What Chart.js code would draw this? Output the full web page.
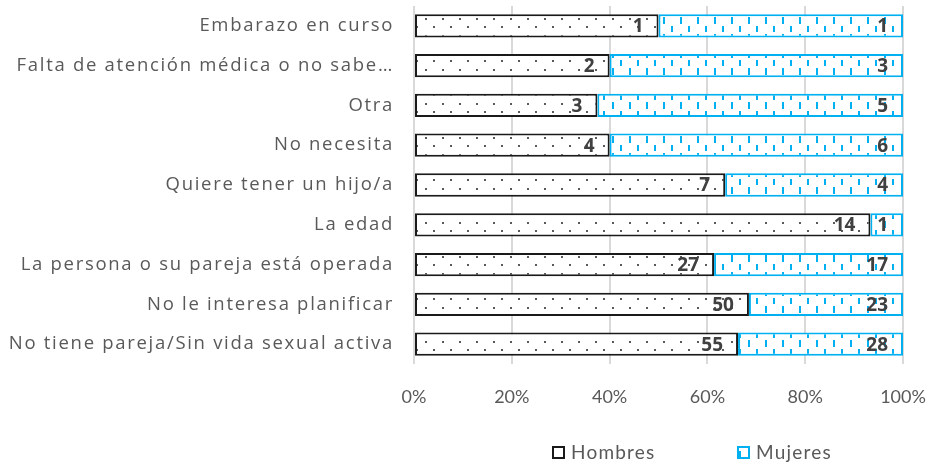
<!DOCTYPE html>
<html><head><meta charset="utf-8">
<script src="https://cdn.jsdelivr.net/npm/chart.js@4"></script>
<style>html,body{margin:0;padding:0;background:#fff}#wrap{width:932px;height:464px}</style>
</head><body><div id="wrap"><canvas id="c" width="932" height="464"></canvas></div>
<script>
const categories = [
  'Embarazo en curso',
  'Falta de atención médica o no sabe…',
  'Otra',
  'No necesita',
  'Quiere tener un hijo/a',
  'La edad',
  'La persona o su pareja está operada',
  'No le interesa planificar',
  'No tiene pareja/Sin vida sexual activa'
];
const hombres = [1, 2, 3, 4, 7, 14, 27, 50, 55];
const mujeres = [1, 3, 5, 6, 4, 1, 17, 23, 28];
const seriesNames = ['Hombres', 'Mujeres'];
const xTickValues = [0, 20, 40, 60, 80, 100];

const totals = hombres.map((h, i) => h + mujeres[i]);
const hombresPct = hombres.map((h, i) => h / totals[i] * 100);
const mujeresPct = mujeres.map((m, i) => m / totals[i] * 100);

const CYAN = '#00B0F0';
const DARK = '#1a1a1a';
const SPACING = '1.7px';

function dotPattern() {
  const c = document.createElement('canvas');
  c.width = 17; c.height = 17;
  const g = c.getContext('2d');
  g.fillStyle = '#fff'; g.fillRect(0, 0, 17, 17);
  g.fillStyle = '#5a5a5a';
  g.fillRect(0, 1, 2, 2);
  g.fillRect(8, 9, 2, 2);
  return g.createPattern(c, 'repeat');
}
function dashPattern() {
  const c = document.createElement('canvas');
  c.width = 17; c.height = 17;
  const g = c.getContext('2d');
  g.fillStyle = '#fff'; g.fillRect(0, 0, 17, 17);
  g.fillStyle = CYAN;
  g.fillRect(0, 0, 2, 7);
  g.fillRect(8, 9, 2, 6);
  return g.createPattern(c, 'repeat');
}
const patH = dotPattern();
const patM = dashPattern();

const labelPlugin = {
  id: 'valueLabels',
  afterDatasetsDraw(chart) {
    const ctx = chart.ctx;
    ctx.save();
    ctx.letterSpacing = '0px';
    ctx.font = 'bold 19px "Open Sans", sans-serif';
    ctx.fillStyle = '#404040';
    ctx.textAlign = 'right';
    ctx.textBaseline = 'middle';
    chart.data.datasets.forEach((ds, di) => {
      const meta = chart.getDatasetMeta(di);
      meta.data.forEach((bar, i) => {
        ctx.fillText(String(ds.counts[i]), bar.x - 15, bar.y + 1);
      });
    });
    ctx.restore();
    // category labels (drawn next, z=1) use spaced lettering
    ctx.letterSpacing = SPACING;
  }
};

const legendPlugin = {
  id: 'customLegend',
  afterDraw(chart) {
    const ctx = chart.ctx;
    const items = [
      { x: 552, fill: patH, stroke: DARK, text: chart.data.datasets[0].label },
      { x: 737, fill: patM, stroke: CYAN, text: chart.data.datasets[1].label }
    ];
    const y = 452;
    ctx.save();
    items.forEach(it => {
      ctx.letterSpacing = '0px';
      ctx.fillStyle = '#fff';
      ctx.fillRect(it.x, y - 6, 13, 13);
      ctx.fillStyle = it.fill;
      ctx.fillRect(it.x, y - 6, 13, 13);
      ctx.strokeStyle = it.stroke;
      ctx.lineWidth = 2;
      ctx.strokeRect(it.x + 1, y - 5, 11, 11);
      ctx.letterSpacing = '1.2px';
      ctx.fillStyle = '#595959';
      ctx.font = '19px Lato, sans-serif';
      ctx.textAlign = 'left';
      ctx.textBaseline = 'middle';
      ctx.fillText(it.text, it.x + 19, y + 1);
    });
    ctx.restore();
    ctx.letterSpacing = '0px';
  }
};

new Chart(document.getElementById('c'), {
  type: 'bar',
  data: {
    labels: categories,
    datasets: [
      { label: seriesNames[0], data: hombresPct, counts: hombres, backgroundColor: patH,
        borderColor: DARK, borderWidth: 2, borderSkipped: false,
        barPercentage: 0.585, categoryPercentage: 1 },
      { label: seriesNames[1], data: mujeresPct, counts: mujeres, backgroundColor: patM,
        borderColor: CYAN, borderWidth: 2, borderSkipped: false,
        barPercentage: 0.585, categoryPercentage: 1 }
    ]
  },
  options: {
    indexAxis: 'y',
    responsive: false,
    animation: false,
    devicePixelRatio: 1,
    layout: { padding: { top: 6, right: 29, bottom: 56, left: 0 } },
    plugins: { legend: { display: false }, tooltip: { enabled: false } },
    scales: {
      x: {
        stacked: true, min: 0, max: 100,
        afterBuildTicks: s => { s.ticks = xTickValues.map(v => ({ value: v })); },
        ticks: { callback: v => v + '%', color: '#595959', font: { family: 'Lato', size: 18 }, padding: 22 },
        grid: { color: '#d9d9d9', lineWidth: 2, drawTicks: false },
        border: { display: false },
        afterFit: s => { s.height = 44; s.paddingLeft = 0; s.paddingRight = 0; }
      },
      y: {
        stacked: true,
        ticks: { color: '#595959', font: { family: 'Open Sans', size: 18.5 }, padding: 20, z: 1 },
        grid: { display: false, drawTicks: false },
        border: { display: false },
        afterFit: s => { s.width = 414; s.paddingTop = 0; s.paddingBottom = 0; }
      }
    }
  },
  plugins: [labelPlugin, legendPlugin]
});
</script>
</body></html>
